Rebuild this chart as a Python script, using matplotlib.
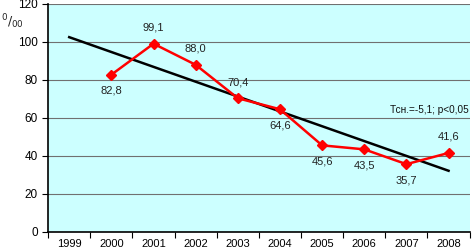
import numpy as np
import matplotlib
matplotlib.use("Agg")
import matplotlib.pyplot as plt

plt.rcParams['font.family'] = ['Liberation Sans', 'DejaVu Sans']

years = ['1999', '2000', '2001', '2002', '2003', '2004', '2005', '2006', '2007', '2008']
data_years = ['2000', '2001', '2002', '2003', '2004', '2005', '2006', '2007', '2008']
values = [82.8, 99.1, 88.0, 70.4, 64.6, 45.6, 43.5, 35.7, 41.6]
labels = ['82,8', '99,1', '88,0', '70,4', '64,6', '45,6', '43,5', '35,7', '41,6']
label_side = ['below', 'above', 'above', 'above', 'below', 'below', 'below', 'below', 'above']
y_ticks = [0, 20, 40, 60, 80, 100, 120]

fig = plt.figure(figsize=(4.72, 2.5), dpi=100)
ax = fig.add_axes([0.102, 0.072, 0.893, 0.912])
ax.set_facecolor('#CCFFFF')

xpos = np.array([years.index(y) for y in data_years])

# linear trend fitted on the data, extended back to 1999
k, b = np.polyfit(xpos, values, 1)
tx = np.array([0, len(years) - 1])
ax.plot(tx, k * tx + b, color='black', lw=1.8, zorder=3)

ax.plot(xpos, values, color='#FF0000', lw=1.8, marker='D', ms=5,
        markerfacecolor='#FF0000', markeredgecolor='#FF0000', zorder=4)

for x, v, t, s in zip(xpos, values, labels, label_side):
    if s == 'above':
        ax.annotate(t, (x, v), xytext=(0, 8), textcoords='offset points',
                    ha='center', va='bottom', fontsize=8, color='#222222')
    else:
        ax.annotate(t, (x, v), xytext=(0, -8), textcoords='offset points',
                    ha='center', va='top', fontsize=8, color='#222222')

ax.text(9.47, 64, 'Тсн.=-5,1; p<0,05', ha='right', va='center', fontsize=7.2, color='#111111')

ax.set_xlim(-0.5, len(years) - 0.5)
ax.set_ylim(0, 120)
ax.set_yticks(y_ticks)
ax.set_yticklabels([str(v) for v in y_ticks], fontsize=8.5)
ax.yaxis.grid(True, color='#707070', lw=0.8)
ax.set_axisbelow(True)

ax.set_xticks(np.arange(len(years) + 1) - 0.5)
ax.set_xticklabels([])
ax.set_xticks(np.arange(len(years)), minor=True)
ax.set_xticklabels(years, minor=True, fontsize=8)
ax.tick_params(axis='x', which='minor', length=0, pad=5)
ax.tick_params(axis='x', which='major', length=4, direction='out')
ax.tick_params(axis='y', length=4, direction='out')

for side in ['top', 'right']:
    ax.spines[side].set_visible(False)
ax.spines['left'].set_linewidth(1.2)
ax.spines['bottom'].set_linewidth(1.2)

fig.text(0.002, 0.915, r'$^{0}/_{00}$', fontsize=9, ha='left', va='center', color='#222222')

fig.savefig('out.png', dpi=100)
